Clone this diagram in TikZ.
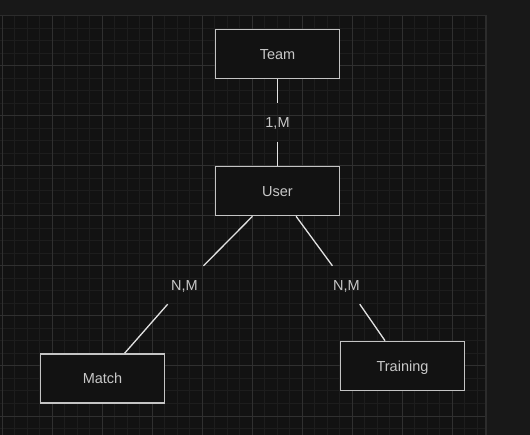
\documentclass[tikz,border=0pt]{standalone}
\usepackage{fontspec}
\setmainfont{Liberation Sans}
\definecolor{panel}{HTML}{181818}
\definecolor{canvas}{HTML}{121212}
\definecolor{minorgrid}{HTML}{1D1D1D}
\definecolor{majorgrid}{HTML}{303030}
\definecolor{frameline}{HTML}{2C2C2C}
\definecolor{edgeline}{HTML}{E2E2E2}
\definecolor{boxline}{HTML}{C4C4C4}
\definecolor{labeltext}{HTML}{C8C8C8}
\begin{document}
\begin{tikzpicture}[x=1pt,y=-1pt,line cap=butt,
  entity/.style={draw=boxline,line width=1.6pt,fill=canvas,minimum width=124pt,minimum height=49pt,inner sep=0pt,text=labeltext,font=\fontsize{14.5}{17}\selectfont,text height=10.4pt,text depth=0pt},
  card/.style={minimum width=40pt,minimum height=38pt,inner sep=0pt,text=labeltext,font=\fontsize{14.5}{17}\selectfont,text height=10.4pt,text depth=0pt},
  rel/.style={draw=edgeline,line width=1.3pt}]
  \useasboundingbox (0,0) rectangle (530,435);
  % background and grid
  \fill[panel] (0,0) rectangle (530,435);
  \fill[canvas] (0,16) rectangle (485,435);
  \foreach \gx in {2,14.5,...,484} \draw[minorgrid,line width=1pt] (\gx,16) -- (\gx,435);
  \foreach \gy in {16,28.5,...,435} \draw[minorgrid,line width=1pt] (0,\gy) -- (485,\gy);
  \foreach \gx in {2,52,...,484} \draw[majorgrid,line width=1pt] (\gx,16) -- (\gx,435);
  \foreach \gy in {66,116,...,435} \draw[majorgrid,line width=1pt] (0,\gy) -- (485,\gy);
  \draw[frameline,line width=1.5pt] (0,15.5) -- (486,15.5) -- (486,435);
  % entities
  \node[entity] (team) at (277.5,54) {Team};
  \node[entity] (user) at (277.5,191) {User};
  \node[entity] (match) at (102.5,378.5) {Match};
  \node[entity] (training) at (402.5,366) {Training};
  % cardinalities
  \node[card] (teamuser) at (277.5,122.5) {1,M};
  \node[card] (usermatch) at (184.5,285) {N,M};
  \node[card] (usertraining) at (346.5,285) {N,M};
  \draw[rel] (team) -- (teamuser) (teamuser) -- (user);
  \draw[rel] (user) -- (usermatch) (usermatch) -- (match);
  \draw[rel] (user) -- (usertraining) (usertraining) -- (training);
\end{tikzpicture}
\end{document}
